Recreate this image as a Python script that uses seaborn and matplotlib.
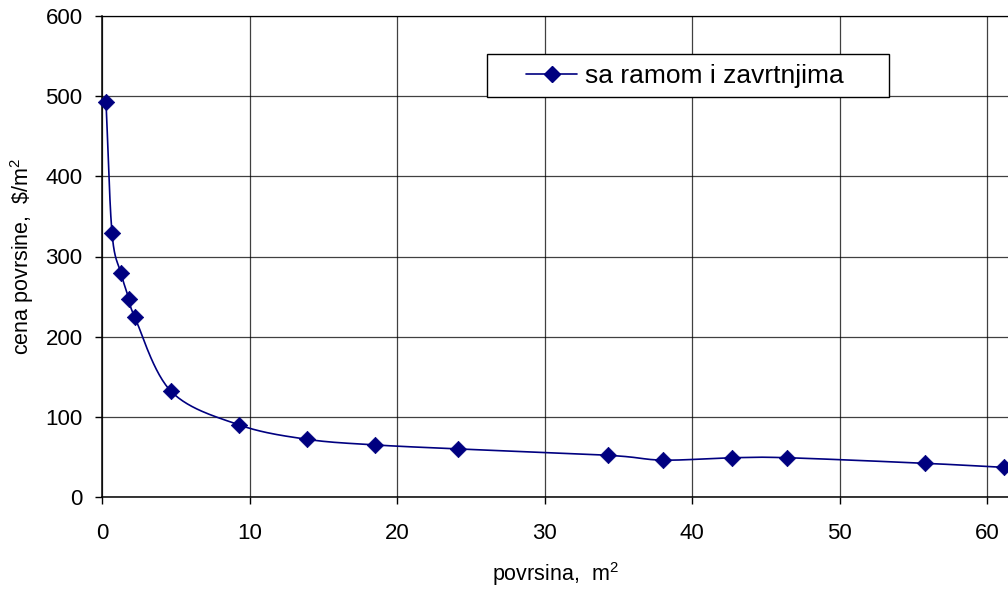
import numpy as np
import pandas as pd
import matplotlib
matplotlib.use("Agg")
import matplotlib.pyplot as plt
from matplotlib.lines import Line2D
from matplotlib.patches import Rectangle
import seaborn as sns

# Surface area (m^2) and unit price ($/m^2)
povrsina = [0.27, 0.68, 1.29, 1.83, 2.23, 4.67, 9.28, 13.88, 18.48, 24.1,
            34.3, 38.0, 42.7, 46.4, 55.8, 61.1]
cena = [493, 329, 279, 247, 224, 132, 90, 72, 65, 60,
        52, 46, 49, 49, 42, 37]
series_name = "sa ramom i zavrtnjima"
x_ticks = [0, 10, 20, 30, 40, 50, 60]
y_ticks = [0, 100, 200, 300, 400, 500, 600]

NAVY = "#000080"
W, H = 1008, 591

sns.set_theme(style="white")
plt.rcParams["font.family"] = ["Liberation Sans", "DejaVu Sans"]
plt.rcParams["mathtext.fontset"] = "custom"
plt.rcParams["mathtext.rm"] = "Liberation Sans"

fig = plt.figure(figsize=(W / 100, H / 100), dpi=100)
ax = fig.add_axes([102 / W, 1 - 497 / H, 906 / W, 481 / H])
XMAX = 61.4
ax.set_xlim(0, XMAX)
ax.set_ylim(0, 600)


def smooth_curve(xs, ys, sx, sy, n=30):
    """Bezier smoothing through the points, computed in screen-like units."""
    P = np.column_stack([np.asarray(xs) * sx, np.asarray(ys) * sy])
    P = np.vstack([P[0] - (P[1] - P[0]), P, P[-1] + (P[-1] - P[-2])])
    out = []
    t = np.linspace(0, 1, n)[:, None]
    for i in range(1, len(P) - 2):
        p0, p1, p2, p3 = P[i - 1], P[i], P[i + 1], P[i + 2]
        c1 = p1 + (p2 - p0) / 6.0
        c2 = p2 - (p3 - p1) / 6.0
        seg = ((1 - t) ** 3) * p1 + 3 * ((1 - t) ** 2) * t * c1 \
            + 3 * (1 - t) * t ** 2 * c2 + t ** 3 * p2
        out.append(seg if i == 1 else seg[1:])
    out = np.vstack(out)
    return out[:, 0] / sx, out[:, 1] / sy


sx = 906 / XMAX
sy = 481 / 600
cx, cy = smooth_curve(povrsina, cena, sx, sy)
curve = pd.DataFrame({"x": cx, "y": cy})
points = pd.DataFrame({"povrsina": povrsina, "cena": cena})

sns.lineplot(data=curve, x="x", y="y", sort=False, estimator=None,
             color=NAVY, linewidth=1.2, ax=ax, clip_on=False, zorder=3)
sns.scatterplot(data=points, x="povrsina", y="cena", marker="D", s=70,
                color=NAVY, edgecolor=NAVY, linewidth=0.5, ax=ax,
                clip_on=False, zorder=4)

ax.set_xticks(x_ticks)
ax.set_yticks(y_ticks)
ax.grid(True, color="black", linewidth=0.9, alpha=0.75)
ax.set_axisbelow(True)
ax.tick_params(axis="both", which="major", labelsize=16, length=5,
               width=1, color="black", direction="out",
               bottom=True, left=True, labelcolor="black")
ax.tick_params(axis="y", pad=9)
ax.tick_params(axis="x", pad=14)
for side in ["left", "bottom"]:
    ax.spines[side].set_color("black")
    ax.spines[side].set_linewidth(1.1)
ax.spines["top"].set_color("black")
ax.spines["top"].set_linewidth(0.9)
ax.spines["right"].set_visible(False)

ax.set_xlabel("povrsina,  m$^2$", fontsize=15.5, color="black")
ax.set_ylabel("cena povrsine,  \\$/m$^2$", fontsize=15.5, color="black")
ax.xaxis.set_label_coords(0.5, (497 - 560) / 481)
ax.yaxis.set_label_coords((36 - 102) / 906, 0.5)

# Legend: entry placed inside a separately drawn box
fig.patches.append(Rectangle((487 / W, 1 - 97 / H), 402 / W, 43 / H,
                             transform=fig.transFigure, facecolor="white",
                             edgecolor="black", linewidth=1.0, zorder=5))
handle = Line2D([0], [0], color=NAVY, linewidth=1.2, marker="D",
                markersize=8, markerfacecolor=NAVY, markeredgecolor=NAVY)
leg = fig.legend([handle], [series_name], loc="center left",
                 bbox_to_anchor=(526 / W, 1 - 76 / H),
                 frameon=False, fontsize=19, handlelength=1.95,
                 borderpad=0, borderaxespad=0, handletextpad=0.3)
leg.set_zorder(6)
for t in leg.get_texts():
    t.set_color("black")

fig.savefig("out.png", dpi=100, facecolor="white")
